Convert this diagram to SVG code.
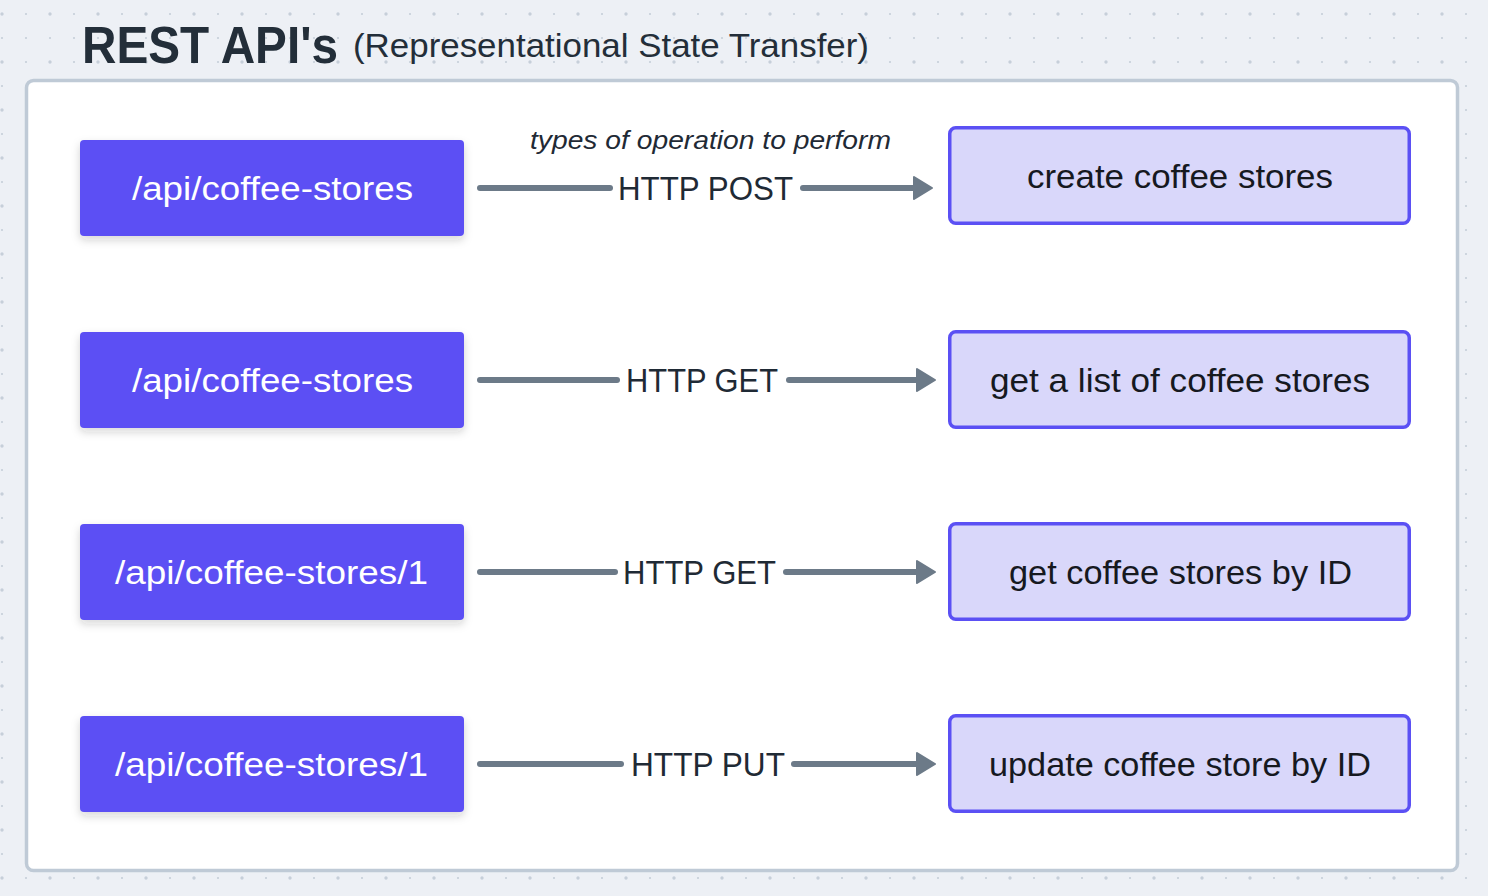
<svg xmlns="http://www.w3.org/2000/svg" width="1488" height="896" viewBox="0 0 1488 896">
<defs>
<pattern id="dots" patternUnits="userSpaceOnUse" x="-10" y="2" width="48" height="48">
<circle cx="12" cy="12" r="1.7" fill="#c6cfd9"/>
<circle cx="36" cy="12" r="1.1" fill="#c6cfd9"/>
<circle cx="12" cy="36" r="1.1" fill="#c6cfd9"/>
<circle cx="36" cy="36" r="1.1" fill="#c6cfd9"/>
</pattern>
<filter id="shadow" x="-10%" y="-20%" width="120%" height="150%">
<feDropShadow dx="0" dy="4" stdDeviation="4" flood-color="#1b2330" flood-opacity="0.18"/>
</filter>
</defs>
<style>
.src rect{fill:#5b50f4;filter:url(#shadow)}
.src text{fill:#ffffff;font-family:"Liberation Sans",Arial,sans-serif;font-size:34px;text-anchor:middle}
.dst rect{fill:#d9d7fa;stroke:#5b50f4;stroke-width:3.5}
.dst text{fill:#16191f;font-family:"Liberation Sans",Arial,sans-serif;font-size:34px;text-anchor:middle}
.line{stroke:#6c7a88;stroke-width:6;stroke-linecap:round;fill:none}
.head{fill:#6c7a88;stroke:#6c7a88;stroke-width:2;stroke-linejoin:round}
.lbl{fill:#1f2a35;font-family:"Liberation Sans",Arial,sans-serif;font-size:33px;text-anchor:middle}
</style>
<rect x="0" y="0" width="1488" height="896" fill="#edf0f5"/>
<rect x="0" y="0" width="1488" height="896" fill="url(#dots)"/>
<g id="title">
<text x="82" y="63" font-family="Liberation Sans, Arial, sans-serif" font-weight="bold" font-size="52" fill="#232e39" textLength="256" lengthAdjust="spacingAndGlyphs">REST API's</text>
<text x="353" y="57" font-family="Liberation Sans, Arial, sans-serif" font-size="33" fill="#232e39" textLength="516" lengthAdjust="spacingAndGlyphs">(Representational State Transfer)</text>
</g>
<rect id="panel" x="26.5" y="80.5" width="1431" height="790" rx="7" fill="#ffffff" stroke="#bfcad6" stroke-width="3.5"/>
<text id="op-caption" x="710.5" y="149" font-family="Liberation Sans, Arial, sans-serif" font-style="italic" font-size="26" fill="#1f2a35" text-anchor="middle" textLength="361" lengthAdjust="spacingAndGlyphs">types of operation to perform</text>
<g id="connectors">
<g id="c1">
<line class="line" x1="480" y1="188" x2="610" y2="188"/>
<line class="line" x1="803" y1="188" x2="916" y2="188"/>
<path class="head" d="M914 177 L932 188 L914 199 Z"/>
<text class="lbl" x="705.5" y="200" textLength="175" lengthAdjust="spacingAndGlyphs">HTTP POST</text>
</g>
<g id="c2">
<line class="line" x1="480" y1="380" x2="617" y2="380"/>
<line class="line" x1="789" y1="380" x2="919" y2="380"/>
<path class="head" d="M917 369 L935 380 L917 391 Z"/>
<text class="lbl" x="702" y="392" textLength="152" lengthAdjust="spacingAndGlyphs">HTTP GET</text>
</g>
<g id="c3">
<line class="line" x1="480" y1="572" x2="615" y2="572"/>
<line class="line" x1="786" y1="572" x2="919" y2="572"/>
<path class="head" d="M917 561 L935 572 L917 583 Z"/>
<text class="lbl" x="699.5" y="584" textLength="153" lengthAdjust="spacingAndGlyphs">HTTP GET</text>
</g>
<g id="c4">
<line class="line" x1="480" y1="764" x2="621" y2="764"/>
<line class="line" x1="794" y1="764" x2="919" y2="764"/>
<path class="head" d="M917 753 L935 764 L917 775 Z"/>
<text class="lbl" x="708" y="776" textLength="154" lengthAdjust="spacingAndGlyphs">HTTP PUT</text>
</g>
</g>
<g id="src1" class="src"><rect x="80" y="140" width="384" height="96" rx="4"/><text x="272.5" y="200" textLength="281" lengthAdjust="spacingAndGlyphs">/api/coffee-stores</text></g>
<g id="src2" class="src"><rect x="80" y="332" width="384" height="96" rx="4"/><text x="272.5" y="392" textLength="281" lengthAdjust="spacingAndGlyphs">/api/coffee-stores</text></g>
<g id="src3" class="src"><rect x="80" y="524" width="384" height="96" rx="4"/><text x="271.5" y="584" textLength="313" lengthAdjust="spacingAndGlyphs">/api/coffee-stores/1</text></g>
<g id="src4" class="src"><rect x="80" y="716" width="384" height="96" rx="4"/><text x="271.5" y="776" textLength="313" lengthAdjust="spacingAndGlyphs">/api/coffee-stores/1</text></g>
<g id="dst1" class="dst"><rect x="949.75" y="127.75" width="459.5" height="95.5" rx="6"/><text x="1180" y="188" textLength="306" lengthAdjust="spacingAndGlyphs">create coffee stores</text></g>
<g id="dst2" class="dst"><rect x="949.75" y="331.75" width="459.5" height="95.5" rx="6"/><text x="1180" y="392" textLength="380" lengthAdjust="spacingAndGlyphs">get a list of coffee stores</text></g>
<g id="dst3" class="dst"><rect x="949.75" y="523.75" width="459.5" height="95.5" rx="6"/><text x="1180.5" y="584" textLength="343" lengthAdjust="spacingAndGlyphs">get coffee stores by ID</text></g>
<g id="dst4" class="dst"><rect x="949.75" y="715.75" width="459.5" height="95.5" rx="6"/><text x="1180" y="776" textLength="382" lengthAdjust="spacingAndGlyphs">update coffee store by ID</text></g>
</svg>
